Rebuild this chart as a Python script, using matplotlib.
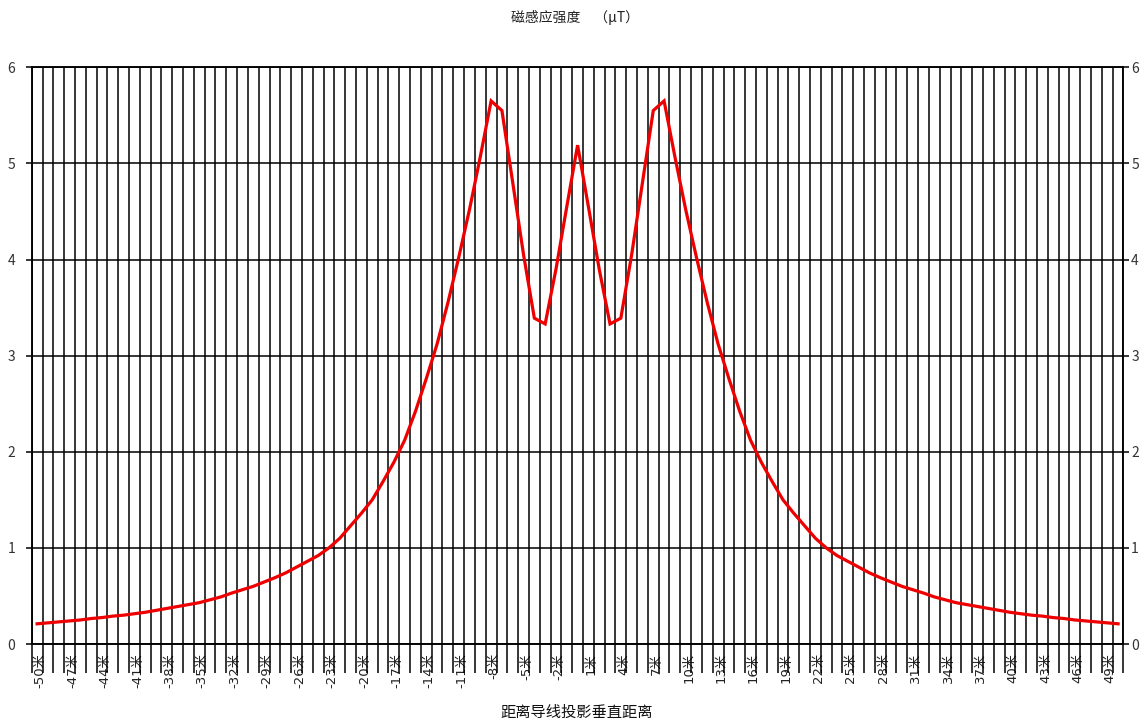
import matplotlib
matplotlib.use("Agg")
import matplotlib.pyplot as plt
import matplotlib.transforms as mtransforms
import numpy as np

plt.rcParams['font.family'] = ['Noto Sans CJK SC', 'DejaVu Sans']

# distance (m) from conductor projection
distance = list(range(-50, 51))
# magnetic induction (uT)
field = [
    0.21, 0.22, 0.23, 0.24, 0.25, 0.265, 0.275, 0.29, 0.30, 0.315,   # -50..-41
    0.33, 0.35, 0.37, 0.39, 0.41, 0.43, 0.46, 0.49, 0.53, 0.565,     # -40..-31
    0.60, 0.645, 0.69, 0.74, 0.80, 0.86, 0.92, 1.00, 1.10, 1.23,     # -30..-21
    1.36, 1.50, 1.69, 1.89, 2.12, 2.42, 2.76, 3.12, 3.55, 4.02,      # -20..-11
    4.52, 5.07, 5.65, 5.55, 4.80, 4.05, 3.39, 3.33, 3.90, 4.55,      # -10..-1
    5.19,                                                            # 0
    4.55, 3.90, 3.33, 3.39, 4.05, 4.80, 5.55, 5.65, 5.07, 4.52,      # 1..10
    4.02, 3.55, 3.12, 2.76, 2.42, 2.12, 1.89, 1.69, 1.50, 1.36,      # 11..20
    1.23, 1.10, 1.00, 0.92, 0.86, 0.80, 0.74, 0.69, 0.645, 0.60,     # 21..30
    0.565, 0.53, 0.49, 0.46, 0.43, 0.41, 0.39, 0.37, 0.35, 0.33,     # 31..40
    0.315, 0.30, 0.29, 0.275, 0.265, 0.25, 0.24, 0.23, 0.22, 0.21,   # 41..50
]
tick_values = list(range(-50, 51, 3))
tick_labels = [f"{v}米" for v in tick_values]
y_ticks = [0, 1, 2, 3, 4, 5, 6]

title = "磁感应强度\u3000（μT）"
xlabel = "距离导线投影垂直距离"

W, H = 1148, 725
fig = plt.figure(figsize=(W / 100, H / 100), dpi=100)
left_px, right_px, top_px, bottom_px = 31.7, 1123.5, 67.3, 644.0
ax = fig.add_axes([left_px / W, 1 - bottom_px / H,
                   (right_px - left_px) / W, (bottom_px - top_px) / H])

ax.plot(distance, field, color='#ee0000', lw=2.3, solid_joinstyle='miter', zorder=5)

ax.set_xlim(-50.5, 50.5)
ax.set_ylim(0, 6)

grid_color = '#000000'
glw = 1.1
# vertical grid lines between categories
minor_pos = np.arange(-50.5, 51.0, 1.0)
ax.set_xticks(minor_pos, minor=True)
ax.set_xticks(tick_values)
ax.set_xticklabels(tick_labels, rotation=90, fontsize=9.5, color='#222222',
                   va='top', ha='center', family=['DejaVu Sans', 'Noto Sans CJK SC'])
ax.tick_params(axis='x', which='major', length=0, pad=6.5)
ax.tick_params(axis='x', which='minor', length=21, width=glw, color=grid_color,
               direction='out')
ax.grid(True, axis='x', which='minor', color=grid_color, lw=glw)
shift = mtransforms.ScaledTranslation(3 / 100, 0, fig.dpi_scale_trans)
for lbl in ax.get_xticklabels():
    lbl.set_transform(lbl.get_transform() + shift)

ax.set_yticks(y_ticks)
ax.tick_params(axis='y', which='major', length=4, width=glw, color=grid_color,
               labelsize=10, labelcolor='#333333', left=True, right=False,
               labelleft=True, labelright=False, pad=8)
ax.grid(True, axis='y', which='major', color=grid_color, lw=glw)

ax2 = ax.twinx()
ax2.set_ylim(0, 6)
ax2.set_yticks(y_ticks)
ax2.tick_params(axis='y', which='major', length=4, width=glw, color=grid_color,
                labelsize=10, labelcolor='#333333', pad=1.5)

for a in (ax, ax2):
    for s in a.spines.values():
        s.set_color(grid_color)
        s.set_linewidth(glw)

fig.text(575 / W, 1 - 17 / H, title, ha='center', va='center', fontsize=10,
         color='#222222')
fig.text(577 / W, 1 - 712 / H, xlabel, ha='center', va='center', fontsize=11,
         color='#111111')

fig.savefig('out.png', dpi=100)
